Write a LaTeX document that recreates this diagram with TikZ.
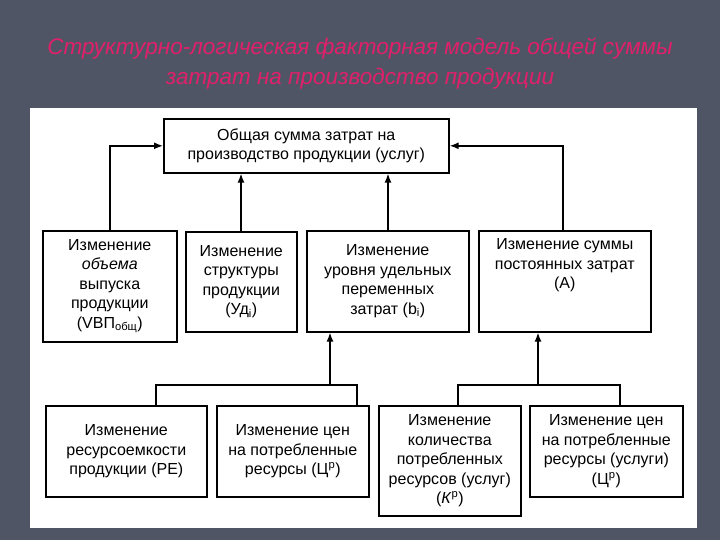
\documentclass[tikz,border=0pt]{standalone}
\usepackage{fontspec}
\setmainfont{Liberation Sans}
\usetikzlibrary{arrows.meta}
\definecolor{bg}{HTML}{4F5565}
\definecolor{ttl}{HTML}{E0206A}
\begin{document}
\begin{tikzpicture}[x=1pt,y=-1pt,
  box/.style={draw=black,line width=1.6pt,fill=white,anchor=north west,align=center,inner sep=0pt,
    font=\fontsize{16}{19.5}\selectfont},
  con/.style={line width=1.5pt},
  arr/.style={line width=1.5pt,-{Latex[length=9pt,width=7pt]}}]
\fill[bg] (0,0) rectangle (720,540);
\useasboundingbox (0,0) rectangle (720,540);
\node[text=ttl,font=\fontsize{22.5}{30}\selectfont\itshape,align=center] (title) at (360,64)
 {Структурно-логическая факторная модель общей суммы\\затрат на производство продукции};
\fill[white] (30,108) rectangle (697,528);
% top
\node[box,minimum width=285pt,minimum height=54pt] (top) at (163,118) {Общая сумма затрат на\\производство продукции (услуг)};
% row 2
\node[box,minimum width=134pt,minimum height=111pt] (a1) at (42,230) {Изменение\\\textit{объема}\\выпуска\\продукции\\(VВП\textsubscript{общ})};
\node[box,minimum width=111pt,minimum height=100pt] (a2) at (185,231) {Изменение\\структуры\\продукции\\(Уд\textsubscript{i})};
\node[box,minimum width=162pt,minimum height=101pt] (a3) at (306,230) {Изменение\\уровня удельных\\переменных\\затрат (b\textsubscript{i})};
\node[box,minimum width=172pt,minimum height=101pt] (a4) at (478,230) {Изменение суммы\\постоянных затрат\\(А)\\[16pt]};
% row 3
\node[box,minimum width=161pt,minimum height=91pt] (b1) at (45,405) {Изменение\\ресурсоемкости\\продукции (РЕ)};
\node[box,minimum width=152pt,minimum height=91pt] (b2) at (216,405) {Изменение цен\\на потребленные\\ресурсы (Ц\textsuperscript{р})};
\node[box,minimum width=142pt,minimum height=110pt] (b3) at (378,405) {Изменение\\количества\\потребленных\\ресурсов (услуг)\\(\textit{К}\textsuperscript{р})};
\node[box,minimum width=153pt,minimum height=91pt] (b4) at (529,405) {Изменение цен\\на потребленные\\ресурсы (услуги)\\(Ц\textsuperscript{р})};
% connectors top
\draw[arr] (a1.north -| 110,0) |- (top.west);
\draw[arr] (a4.north -| 563,0) |- (top.east);
\draw[arr] (a2.north -| 241,0) -- (top.south -| 241,0);
\draw[arr] (a3.north -| 388,0) -- (top.south -| 388,0);
% bottom groups
\coordinate (j1) at (330,385);
\coordinate (j2) at (538,385);
\draw[con] (b1.north -| 156,0) |- (j1) -| (b2.north -| 357,0);
\draw[arr] (j1) -- (a3.south -| j1);
\draw[con] (b3.north -| 458,0) |- (j2) -| (b4.north -| 620,0);
\draw[arr] (j2) -- (a4.south -| j2);
\end{tikzpicture}
\end{document}
